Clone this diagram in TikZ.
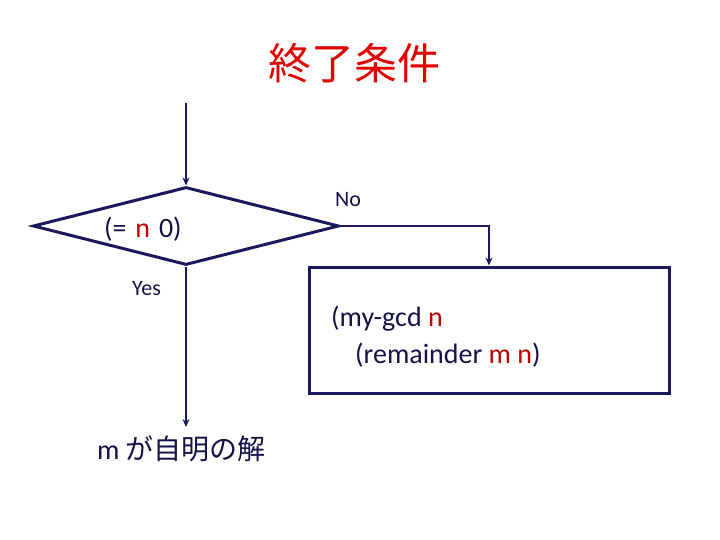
\documentclass[tikz,border=0pt]{standalone}
\usepackage{fontspec}
\setmainfont{Carlito}
\newfontfamily\cjk{Noto Sans CJK JP}
\usetikzlibrary{shapes.geometric,arrows.meta}
\definecolor{navy}{RGB}{28,24,92}
\definecolor{txt}{RGB}{20,18,72}
\definecolor{lred}{RGB}{192,0,0}
\definecolor{tred}{RGB}{226,0,0}
\tikzset{
  shapeline/.style={draw=navy, line width=3pt},
  conn/.style={draw=navy, line width=2.6pt, -{Stealth[length=8pt,width=7pt]}},
  thinconn/.style={draw=navy, line width=1.6pt, -{Stealth[length=8pt,width=7pt]}},
  lbl/.style={text=txt, font=\fontsize{22}{26}\selectfont, inner sep=0pt},
  code/.style={text=txt, font=\fontsize{28}{32}\selectfont, inner sep=0pt, anchor=base west},
}
\begin{document}
\begin{tikzpicture}[x=1pt,y=-1pt]
\useasboundingbox (0,0) rectangle (720,540);
\node[text=tred, font=\cjk\fontsize{43}{47}\selectfont, inner sep=0pt] (title) at (354,63) {終了条件};
\coordinate (start) at (186,103);
\node[shapeline, diamond, minimum width=306pt, minimum height=78pt, inner sep=0pt] (dec) at (186,226) {};
\node[code] (cond) at (104,237) {(=\hspace{2.5pt} \textcolor{lred}{n}\hspace{2.5pt} 0)};
\node[shapeline, rectangle, minimum width=360pt, minimum height=126pt, inner sep=0pt] (box) at (489,330) {};
\node[code] (call1) at (331,326) {(my-gcd \textcolor{lred}{n}};
\node[code] (call2) at (355,363) {(remainder \textcolor{lred}{m n})};
\coordinate (yesend) at (186,427);
\node[lbl, anchor=base west] (no) at (335,207) {No};
\node[lbl, anchor=base west] (yes) at (132,295) {Yes};
\node[code] (result) at (97,459) {m \cjk{}が自明の解};
\draw[conn] (start) -- (dec.north);
\draw[conn] (dec.south) -- (yesend);
\draw[thinconn] (dec.east) -| (box.north);
\end{tikzpicture}
\end{document}
